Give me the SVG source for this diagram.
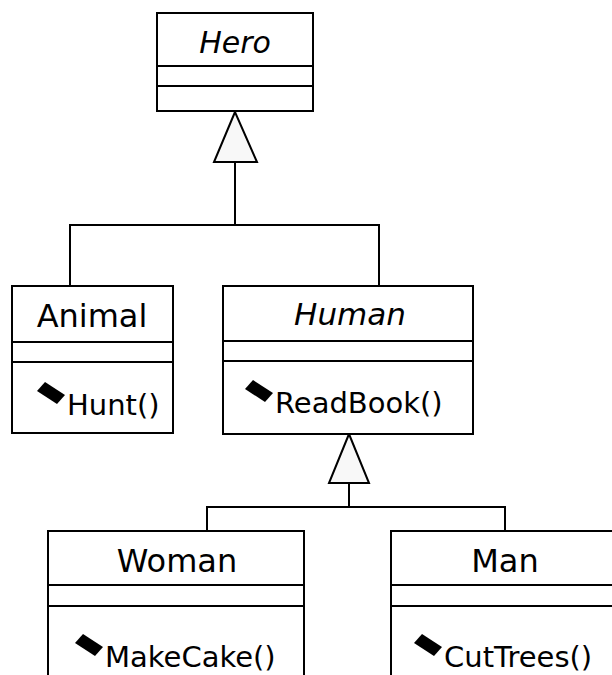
<svg xmlns="http://www.w3.org/2000/svg" xmlns:xlink="http://www.w3.org/1999/xlink" width="612" height="675" viewBox="0 0 612 675">
  <style>
    .box { fill: #ffffff; stroke: #000000; stroke-width: 2; }
    .sep { stroke: #000000; stroke-width: 2; }
    .wire { fill: none; stroke: #000000; stroke-width: 2; }
    .gen { fill: #f8f8f8; stroke: #000000; stroke-width: 2; stroke-linejoin: miter; }
    .name { font-family: "DejaVu Sans", "Liberation Sans", sans-serif; font-size: 32px; fill: #000000; text-anchor: middle; }
    .abstract { font-style: italic; font-size: 30px; }
    .op { font-family: "DejaVu Sans", "Liberation Sans", sans-serif; font-size: 29px; fill: #000000; }
  </style>
  <defs>
    <!-- operation visibility marker, placed relative to the operation's text start and baseline -->
    <polygon id="opIcon" points="-30,-24 -22,-33 -2,-20 -10,-11" fill="#000000"/>
  </defs>

  <rect width="612" height="675" fill="#ffffff"/>

  <!-- generalization connectors -->
  <g id="connectors">
    <polyline class="wire" points="235,162 235,225"/>
    <polyline class="wire" points="70,286 70,225 379,225 379,286"/>
    <polygon class="gen" points="235,112 214,162 257,162"/>

    <polyline class="wire" points="349,483 349,507"/>
    <polyline class="wire" points="207,531 207,507 505,507 505,531"/>
    <polygon class="gen" points="349,434 329,483 369,483"/>
  </g>

  <g id="hero">
    <rect class="box" x="157" y="13" width="156" height="98"/>
    <line class="sep" x1="157" y1="66" x2="313" y2="66"/>
    <line class="sep" x1="157" y1="86" x2="313" y2="86"/>
    <text class="name abstract" x="235" y="53">Hero</text>
  </g>

  <g id="animal">
    <rect class="box" x="12" y="286" width="161" height="147"/>
    <line class="sep" x1="12" y1="342" x2="173" y2="342"/>
    <line class="sep" x1="12" y1="362" x2="173" y2="362"/>
    <text class="name" x="92" y="327">Animal</text>
    <use xlink:href="#opIcon" x="67" y="415"/>
    <text class="op" x="67" y="415">Hunt()</text>
  </g>

  <g id="human">
    <rect class="box" x="223" y="286" width="250" height="148"/>
    <line class="sep" x1="223" y1="341" x2="473" y2="341"/>
    <line class="sep" x1="223" y1="361" x2="473" y2="361"/>
    <text class="name abstract" x="350" y="325" style="font-size:31px">Human</text>
    <use xlink:href="#opIcon" x="275" y="413"/>
    <text class="op" x="275" y="413">ReadBook()</text>
  </g>

  <g id="woman">
    <rect class="box" x="48" y="531" width="256" height="200"/>
    <line class="sep" x1="48" y1="585" x2="304" y2="585"/>
    <line class="sep" x1="48" y1="606" x2="304" y2="606"/>
    <text class="name" x="177" y="572">Woman</text>
    <use xlink:href="#opIcon" x="105" y="667"/>
    <text class="op" x="105" y="667">MakeCake()</text>
  </g>

  <g id="man">
    <rect class="box" x="391" y="531" width="300" height="200"/>
    <line class="sep" x1="391" y1="585" x2="691" y2="585"/>
    <line class="sep" x1="391" y1="606" x2="691" y2="606"/>
    <text class="name" x="505" y="572">Man</text>
    <use xlink:href="#opIcon" x="444" y="667"/>
    <text class="op" x="444" y="667">CutTrees()</text>
  </g>
</svg>
